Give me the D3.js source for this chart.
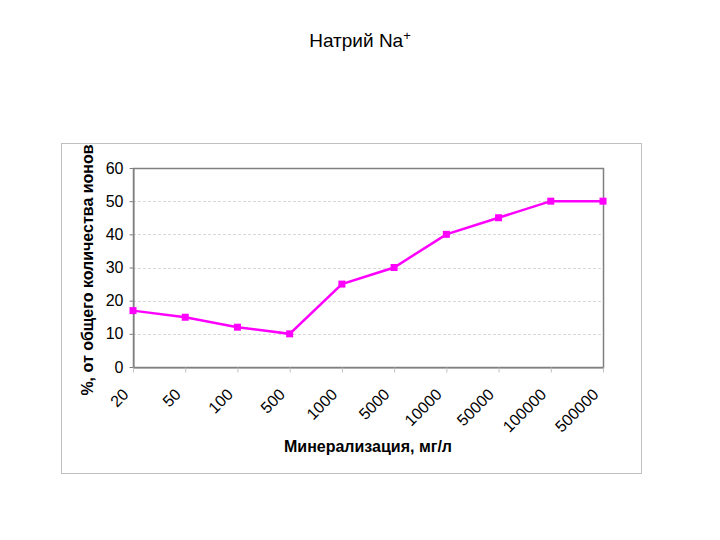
<!DOCTYPE html>
<html>
<head>
<meta charset="utf-8">
<script src="https://cdn.jsdelivr.net/npm/d3@7"></script>
<style>
  body { margin: 0; background: #fff; }
  text { font-family: Arial, "Liberation Sans", sans-serif; }
</style>
</head>
<body>
<div id="chart"></div>
<script>
// data
var categories = ["20", "50", "100", "500", "1000", "5000", "10000", "50000", "100000", "500000"];
var values = [17, 15, 12, 10, 25, 30, 40, 45, 50, 50];
var yTicks = [0, 10, 20, 30, 40, 50, 60];

var svg = d3.select("#chart")
    .append("svg")
    .attr("width", 720)
    .attr("height", 540);

// title
var title = svg.append("text")
    .attr("x", 360)
    .attr("y", 47)
    .attr("text-anchor", "middle")
    .style("font-size", "19px")
    .attr("fill", "#000");
title.append("tspan").text("Натрий Na");
title.append("tspan").attr("dy", -7).style("font-size", "13px").text("+");

// outer chart frame
svg.append("rect")
    .attr("x", 61.5)
    .attr("y", 143.5)
    .attr("width", 580)
    .attr("height", 330)
    .attr("fill", "none")
    .attr("stroke", "#c0c0c0");

var plotLeft = 133, plotRight = 603, plotTop = 168, plotBottom = 367;

var x = d3.scalePoint()
    .domain(categories)
    .range([plotLeft, plotRight]);

var y = d3.scaleLinear()
    .domain([0, 60])
    .range([plotBottom, plotTop]);

// gridlines
svg.selectAll(".grid")
    .data(yTicks.filter(function (d) { return d > 0 && d < 60; }))
    .enter()
    .append("line")
    .attr("class", "grid")
    .attr("x1", plotLeft)
    .attr("x2", plotRight)
    .attr("y1", function (d) { return Math.round(y(d)) + 0.5; })
    .attr("y2", function (d) { return Math.round(y(d)) + 0.5; })
    .attr("stroke", "#d8d8d8")
    .attr("stroke-dasharray", "3,2");

// plot area box
svg.append("rect")
    .attr("x", plotLeft + 0.5)
    .attr("y", plotTop + 0.5)
    .attr("width", plotRight - plotLeft)
    .attr("height", plotBottom - plotTop)
    .attr("fill", "none")
    .attr("stroke", "#808080")
    .attr("stroke-width", 1.5);

// y axis
var yAxis = svg.append("g")
    .attr("transform", "translate(" + (plotLeft + 0.5) + ",0)")
    .call(d3.axisLeft(y).tickValues(yTicks).tickSize(4).tickSizeOuter(0));
yAxis.select(".domain").attr("stroke", "#808080");
yAxis.selectAll(".tick line").attr("stroke", "#808080");
yAxis.selectAll("text")
    .style("font-size", "16px")
    .attr("fill", "#000")
    .attr("x", -10);

// x axis
var xAxis = svg.append("g")
    .attr("transform", "translate(0," + (plotBottom + 0.5) + ")")
    .call(d3.axisBottom(x).tickSize(5).tickSizeOuter(0));
xAxis.select(".domain").attr("stroke", "#808080");
xAxis.selectAll(".tick line").attr("stroke", "#c0c0c0");
xAxis.selectAll("text")
    .style("font-size", "16px")
    .attr("fill", "#000")
    .attr("text-anchor", "end")
    .attr("dy", "0")
    .attr("transform", "translate(-4,28) rotate(-45)")
    .attr("x", 0)
    .attr("y", 0);

// axis titles
svg.append("text")
    .attr("x", 368)
    .attr("y", 452)
    .attr("text-anchor", "middle")
    .style("font-size", "16px")
    .style("font-weight", "bold")
    .text("Минерализация, мг/л");

svg.append("text")
    .attr("transform", "translate(93,270) rotate(-90)")
    .attr("text-anchor", "middle")
    .style("font-size", "16px")
    .style("font-weight", "bold")
    .text("%, от общего количества ионов");

// line
var line = d3.line()
    .x(function (d, i) { return x(categories[i]); })
    .y(function (d) { return y(d); });

svg.append("path")
    .datum(values)
    .attr("d", line)
    .attr("fill", "none")
    .attr("stroke", "#ff00ff")
    .attr("stroke-width", 2.5);

// markers
svg.selectAll(".marker")
    .data(values)
    .enter()
    .append("rect")
    .attr("class", "marker")
    .attr("x", function (d, i) { return x(categories[i]) - 3.5; })
    .attr("y", function (d) { return y(d) - 3.5; })
    .attr("width", 7)
    .attr("height", 7)
    .attr("fill", "#ff00ff");
</script>
</body>
</html>
